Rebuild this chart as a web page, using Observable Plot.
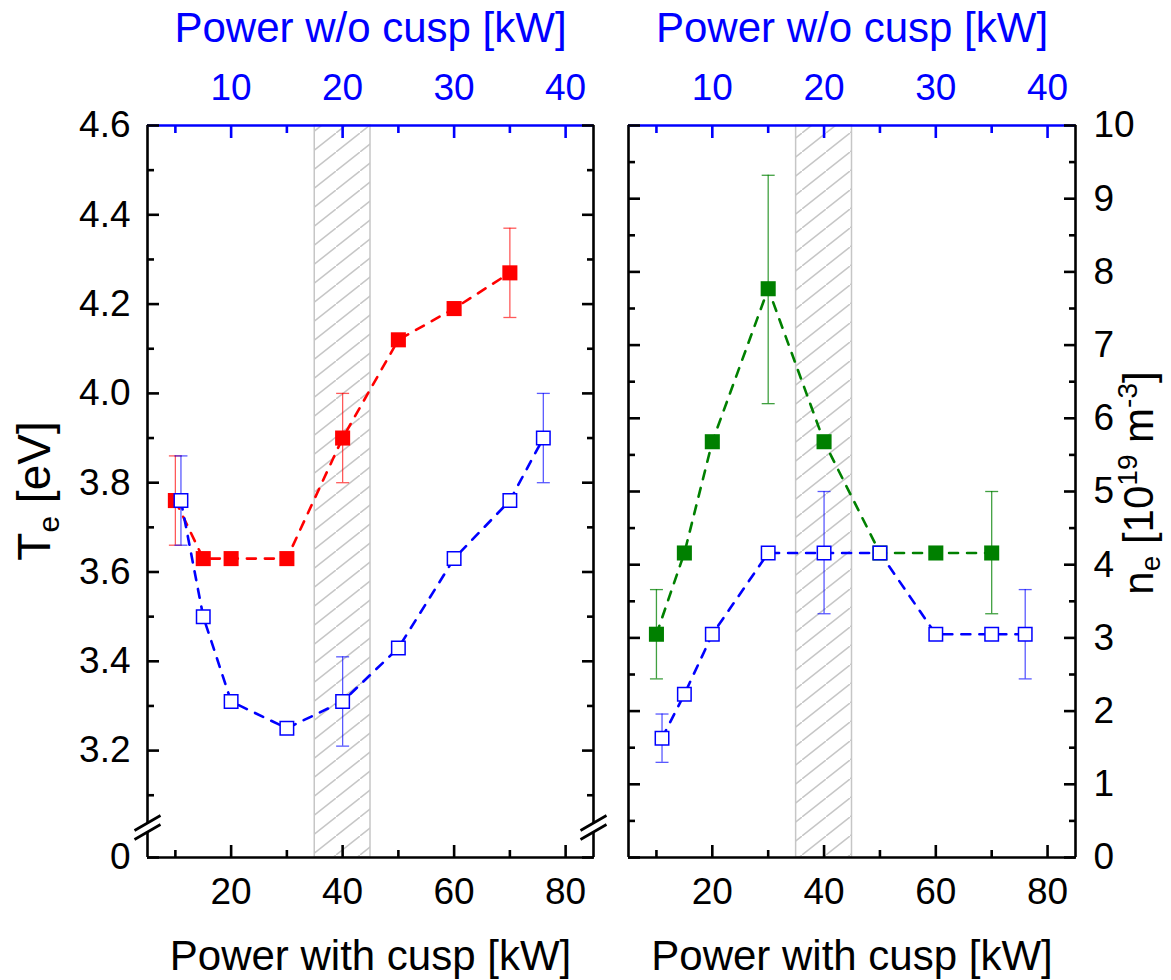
<!DOCTYPE html>
<html><head><meta charset="utf-8">
<script src="https://cdn.jsdelivr.net/npm/d3@7"></script>
<script src="https://cdn.jsdelivr.net/npm/@observablehq/plot@0.6"></script>
<style>
html,body{margin:0;padding:0;background:#fff;}
#wrap{display:flex;width:1171px;height:980px;overflow:hidden;background:#fff;}
#wrap svg{display:block;flex:none;}
</style></head><body><div id="wrap"></div>
<script>
// ---------------- data ----------------
const xWithCusp = [10, 15, 20, 30, 40, 50, 60, 70];          // Power with cusp [kW]
const xWoCusp   = [11, 15, 20, 30, 40, 50, 60, 70, 76];      // same points placed on bottom axis
const teWithCusp = [3.76, 3.63, 3.63, 3.63, 3.90, 4.12, 4.19, 4.27];
const teWoCusp   = [3.76, 3.50, 3.31, 3.25, 3.31, 3.43, 3.63, 3.76, 3.90];
const neWithCusp = [3.05, 4.16, 5.68, 7.77, 5.68, 4.16, 4.16, 4.16];
const neWoCusp   = [1.63, 2.23, 3.05, 4.16, 4.16, 4.16, 3.05, 3.05, 3.05];

const teWithErrX = [10, 40, 70], teWithErrLo = [3.66, 3.80, 4.17], teWithErrHi = [3.86, 4.00, 4.37];
const teWoErrX   = [11, 40, 76], teWoErrLo   = [3.66, 3.21, 3.80], teWoErrHi   = [3.86, 3.41, 4.00];
const neWithErrX = [10, 30, 70], neWithErrLo = [2.44, 6.20, 3.33], neWithErrHi = [3.66, 9.32, 5.00];
const neWoErrX   = [11, 40, 76], neWoErrLo   = [1.30, 3.33, 2.44], neWoErrHi   = [1.96, 5.00, 3.66];

const shadedBand = [35, 45];                 // hatched region (power with cusp)
const xMajorTicks = [20, 40, 60, 80];
const xMinorTicks = [10, 30, 50, 70];
const topTickLabels = ["10", "20", "30", "40"]; // Power w/o cusp
const teMajorTicks = [0, 3.2, 3.4, 3.6, 3.8, 4.0, 4.2, 4.4, 4.6];
const teTickLabels = ["0", "3.2", "3.4", "3.6", "3.8", "4.0", "4.2", "4.4", "4.6"];
const teMinorTicks = [3.1, 3.3, 3.5, 3.7, 3.9, 4.1, 4.3, 4.5];
const neMajorTicks = [0, 1, 2, 3, 4, 5, 6, 7, 8, 9, 10];
const neMinorTicks = [0.5, 1.5, 2.5, 3.5, 4.5, 5.5, 6.5, 7.5, 8.5, 9.5];

// ---------------- helpers ----------------
const F = '"Liberation Sans", Arial, Helvetica, sans-serif';
const pts = (xs, ys) => xs.map((x, i) => ({x, y: ys[i]}));
const errs = (xs, lo, hi) => xs.map((x, i) => ({x, lo: lo[i], hi: hi[i]}));
const capSymbol = {draw(ctx, size) {const r = Math.sqrt(size / Math.PI); ctx.moveTo(-r, 0); ctx.lineTo(r, 0);}};
const breakMask = {draw(ctx) {ctx.moveTo(-13, 4); ctx.lineTo(13, -11); ctx.lineTo(13, -2); ctx.lineTo(-13, 13); ctx.closePath();}};
const breakLines = {draw(ctx) {ctx.moveTo(-13, 4); ctx.lineTo(13, -11); ctx.moveTo(-13, 13); ctx.lineTo(13, -2);}};

function seriesMarks(p, e, color, errColor, filled) {
  return [
    Plot.line(p, {x: "x", y: "y", stroke: color, strokeWidth: 2.6, strokeDasharray: "9,9"}),
    Plot.ruleX(e, {x: "x", y1: "lo", y2: "hi", stroke: errColor, strokeWidth: 1.3}),
    Plot.dot(e, {x: "x", y: "lo", symbol: capSymbol, r: 6.5, fill: "none", stroke: errColor, strokeWidth: 1.3}),
    Plot.dot(e, {x: "x", y: "hi", symbol: capSymbol, r: 6.5, fill: "none", stroke: errColor, strokeWidth: 1.3}),
    filled
      ? Plot.dot(p, {x: "x", y: "y", symbol: "square", r: 8.5, fill: color, stroke: "none"})
      : Plot.dot(p, {x: "x", y: "y", symbol: "square", r: 7.6, fill: "white", stroke: color, strokeWidth: 1.5})
  ];
}

function axesMarks({yMajor, yMinor, yLabels, labelSide, yTop}) {
  const other = labelSide === "left" ? "right" : "left";
  return [
    Plot.ruleX([5, 85], {stroke: "black", strokeWidth: 2.6}),
    Plot.ruleY([0], {stroke: "black", strokeWidth: 2.6}),
    Plot.ruleY([yTop], {stroke: "blue", strokeWidth: 2.6}),
    Plot.axisX({anchor: "bottom", ticks: xMajorTicks, tickSize: -12, tickPadding: 32, fontSize: 37, strokeWidth: 2.6, label: null, tickFormat: d => String(d)}),
    Plot.axisX({anchor: "bottom", ticks: xMinorTicks, tickSize: -7, fill: "none", strokeWidth: 2.6, label: null}),
    Plot.axisX({anchor: "top", ticks: xMajorTicks, tickSize: -12, tickPadding: 38, fontSize: 37, strokeWidth: 2.6, stroke: "blue", fill: "blue", label: null, tickFormat: (d, i) => topTickLabels[i]}),
    Plot.axisX({anchor: "top", ticks: xMinorTicks, tickSize: -7, fill: "none", stroke: "blue", strokeWidth: 2.6, label: null}),
    Plot.axisY({anchor: labelSide, ticks: yMajor, tickSize: -12, tickPadding: labelSide === "left" ? 29 : 30, fontSize: 37, strokeWidth: 2.6, label: null, tickFormat: (d, i) => yLabels[i]}),
    Plot.axisY({anchor: labelSide, ticks: yMinor, tickSize: -7, fill: "none", strokeWidth: 2.6, label: null}),
    Plot.axisY({anchor: other, ticks: yMajor, tickSize: -12, fill: "none", strokeWidth: 2.6, label: null}),
    Plot.axisY({anchor: other, ticks: yMinor, tickSize: -7, fill: "none", strokeWidth: 2.6, label: null}),
    Plot.text(["Power w/o cusp [kW]"], {text: d => d, frameAnchor: "top", dy: -97, fontSize: 42, fill: "blue", lineAnchor: "middle"}),
    Plot.text(["Power with cusp [kW]"], {text: d => d, frameAnchor: "bottom", dy: 99, fontSize: 42, fill: "black", lineAnchor: "middle"})
  ];
}

function addHatch(svg, id) {
  const defs = d3.select(svg).insert("defs", ":first-child");
  const pat = defs.append("pattern").attr("id", id).attr("patternUnits", "userSpaceOnUse")
    .attr("width", 24).attr("height", 19);
  pat.append("rect").attr("width", 24).attr("height", 19).attr("fill", "white");
  pat.append("path").attr("d", "M0,19L24,0M-6,23.75L6,14.25M18,4.75L30,-4.75")
    .attr("stroke", "#c6c6c6").attr("stroke-width", 1.5);
}

// ---------------- left panel: Te ----------------
const left = Plot.plot({
  width: 610, height: 980,
  marginLeft: 147, marginRight: 17, marginTop: 125, marginBottom: 123,
  style: {fontFamily: F, background: "white", color: "black"},
  x: {domain: [5, 85]},
  y: {type: "linear", domain: [0, 3.03, 4.6], range: [857, 826, 125]},
  marks: [
    Plot.rect([shadedBand], {x1: d => d[0], x2: d => d[1], y1: 0, y2: 4.6, fill: "url(#hatchL)", stroke: "#c6c6c6", strokeWidth: 1.5}),
    ...seriesMarks(pts(xWithCusp, teWithCusp), errs(teWithErrX, teWithErrLo, teWithErrHi), "#ff0000", "rgba(255,0,0,0.65)", true),
    ...seriesMarks(pts(xWoCusp, teWoCusp), errs(teWoErrX, teWoErrLo, teWoErrHi), "#0000ff", "rgba(0,0,255,0.65)", false),
    ...axesMarks({yMajor: teMajorTicks, yMinor: teMinorTicks, yLabels: teTickLabels, labelSide: "left", yTop: 4.6}),
    Plot.dot([5, 85], {x: d => d, y: 3.03, symbol: breakMask, fill: "white", stroke: "none"}),
    Plot.dot([5, 85], {x: d => d, y: 3.03, symbol: breakLines, fill: "none", stroke: "black", strokeWidth: 2.6})
  ]
});
addHatch(left, "hatchL");
{
  const t = d3.select(left).append("text")
    .attr("transform", "translate(50,491) rotate(-90)")
    .attr("text-anchor", "middle").attr("font-family", F).attr("font-size", 46).attr("fill", "black");
  t.append("tspan").text("T");
  t.append("tspan").attr("font-size", 30).attr("dy", 9).text("e");
  t.append("tspan").attr("dy", -9).text(" [eV]");
}

// ---------------- right panel: ne ----------------
const right = Plot.plot({
  width: 561, height: 980,
  marginLeft: 18, marginRight: 96, marginTop: 125, marginBottom: 123,
  style: {fontFamily: F, background: "white", color: "black"},
  x: {domain: [5, 85]},
  y: {type: "linear", domain: [0, 10]},
  marks: [
    Plot.rect([shadedBand], {x1: d => d[0], x2: d => d[1], y1: 0, y2: 10, fill: "url(#hatchR)", stroke: "#c6c6c6", strokeWidth: 1.5}),
    ...seriesMarks(pts(xWithCusp, neWithCusp), errs(neWithErrX, neWithErrLo, neWithErrHi), "#008000", "rgba(0,128,0,0.75)", true),
    ...seriesMarks(pts(xWoCusp, neWoCusp), errs(neWoErrX, neWoErrLo, neWoErrHi), "#0000ff", "rgba(0,0,255,0.65)", false),
    ...axesMarks({yMajor: neMajorTicks, yMinor: neMinorTicks, yLabels: neMajorTicks.map(String), labelSide: "right", yTop: 10})
  ]
});
addHatch(right, "hatchR");
{
  const t = d3.select(right).append("text")
    .attr("transform", "translate(543,483) rotate(-90)")
    .attr("text-anchor", "middle").attr("font-family", F).attr("font-size", 42).attr("fill", "black");
  t.append("tspan").text("n");
  t.append("tspan").attr("font-size", 28).attr("dy", 7).text("e");
  t.append("tspan").attr("dy", -7).text(" [10");
  t.append("tspan").attr("font-size", 28).attr("dy", -16).text("19");
  t.append("tspan").attr("dy", 16).text(" m");
  t.append("tspan").attr("font-size", 28).attr("dy", -16).text("-3");
  t.append("tspan").attr("dy", 16).text("]");
}

document.getElementById("wrap").append(left, right);
</script></body></html>
